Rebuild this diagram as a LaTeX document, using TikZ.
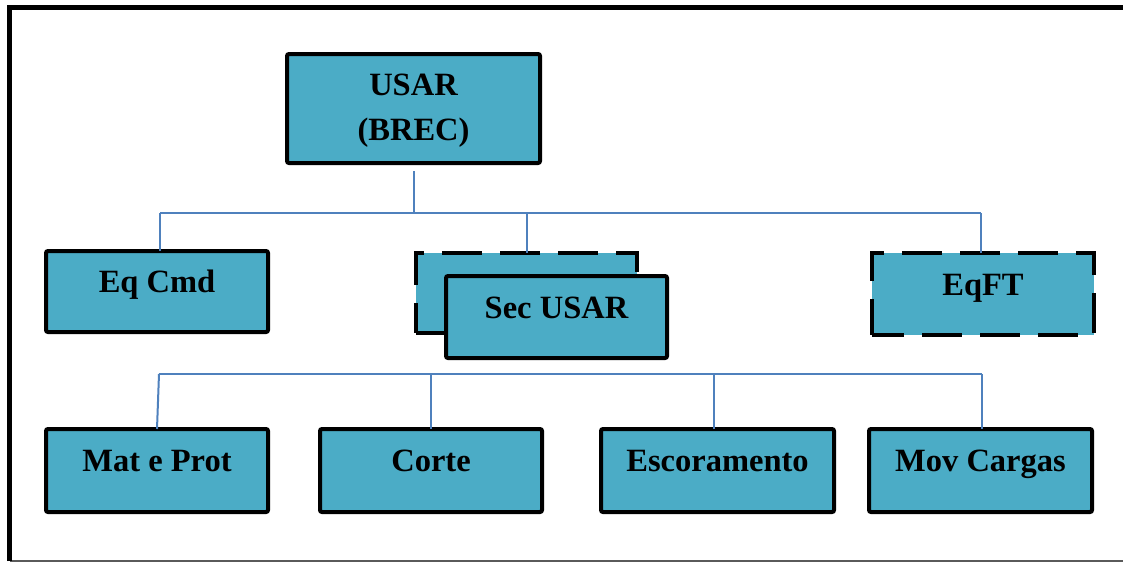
\documentclass[tikz,border=0pt]{standalone}
\usepackage{fontspec}
\setmainfont{Liberation Serif}
\definecolor{boxfill}{RGB}{75,172,198}
\definecolor{linkblue}{RGB}{79,129,189}
\definecolor{framegrey}{RGB}{90,90,90}
\begin{document}
\begin{tikzpicture}[x=1pt,y=-1pt,
  box/.style={draw=black,line width=4pt,fill=boxfill,rounded corners=2pt,
    inner sep=0pt,outer sep=0pt,anchor=north west},
  dbox/.style={box,rounded corners=0pt,dash pattern=on 40pt off 18pt,dash phase=8pt},
  txt/.style={font=\fontsize{32.5}{45}\selectfont\bfseries,align=center,inner sep=0pt},
  btxt/.style={txt,anchor=base},
  conn/.style={draw=linkblue,line width=2pt}]
\useasboundingbox (0,0) rectangle (1123,563);
\fill[white] (0,0) rectangle (1123,563);
% frame
\draw[framegrey,line width=1.5pt] (1130,561) -- (10,561);
\draw[black,line width=5pt] (9.5,561) -- (9.5,7.5) -- (1130,7.5);
% boxes
\node[box,minimum width=253pt,minimum height=109pt] (usar) at (287,54) {};
\node[box,minimum width=222pt,minimum height=81pt] (eqcmd) at (46,251) {};
\node[dbox,minimum width=221pt,minimum height=80pt] (secback) at (416,253) {};
\node[box,minimum width=221pt,minimum height=82pt] (sec) at (446,276) {};
\node[dbox,minimum width=222pt,minimum height=82pt] (eqft) at (872,253) {};
\node[box,minimum width=222pt,minimum height=83pt] (mat) at (46,429) {};
\node[box,minimum width=222pt,minimum height=83pt] (corte) at (320,429) {};
\node[box,minimum width=233pt,minimum height=83pt] (esc) at (601,429) {};
\node[box,minimum width=223pt,minimum height=83pt] (mov) at (869,429) {};
% bus coordinates
\coordinate (b1) at (0,213);
\coordinate (b2) at (0,374);
% connectors
\draw[conn] ([yshift=-8pt]usar.south) -- (usar.south |- b1);
\draw[conn] ([xshift=3pt]eqcmd.north |- b1) -- ([xshift=-2pt]eqft.north |- b1);
\draw[conn] ([xshift=3pt]eqcmd.north |- b1) -- ([xshift=3pt]eqcmd.north);
\draw[conn] (secback.north |- b1) -- (secback.north);
\draw[conn] ([xshift=-2pt]eqft.north |- b1) -- ([xshift=-2pt]eqft.north);
\draw[conn] ([xshift=2pt]mat.north |- b2) -- ([xshift=1pt]mov.north |- b2);
\draw[conn] ([xshift=2pt]mat.north |- b2) -- ([xshift=0pt]mat.north);
\draw[conn] (corte.north |- b2) -- (corte.north);
\draw[conn] ([xshift=-4pt]esc.north |- b2) -- ([xshift=-4pt]esc.north);
\draw[conn] ([xshift=1pt]mov.north |- b2) -- ([xshift=1pt]mov.north);
% texts
\node[txt] (tusar) at ([yshift=-2pt]usar.center) {USAR\\(BREC)};
\node[btxt] (teqcmd) at ([yshift=-1pt]eqcmd.center) {Eq Cmd};
\node[btxt] (tsec) at ([yshift=-1pt]sec.center) {Sec USAR};
\node[btxt] (teqft) at ([yshift=-1pt]eqft.center) {EqFT};
\node[btxt] (tmat) at ([yshift=-1pt]mat.center) {Mat e Prot};
\node[btxt] (tcorte) at ([yshift=-1pt]corte.center) {Corte};
\node[btxt] (tesc) at ([yshift=-1pt]esc.center) {Escoramento};
\node[btxt] (tmov) at ([yshift=-1pt]mov.center) {Mov Cargas};
\end{tikzpicture}
\end{document}
